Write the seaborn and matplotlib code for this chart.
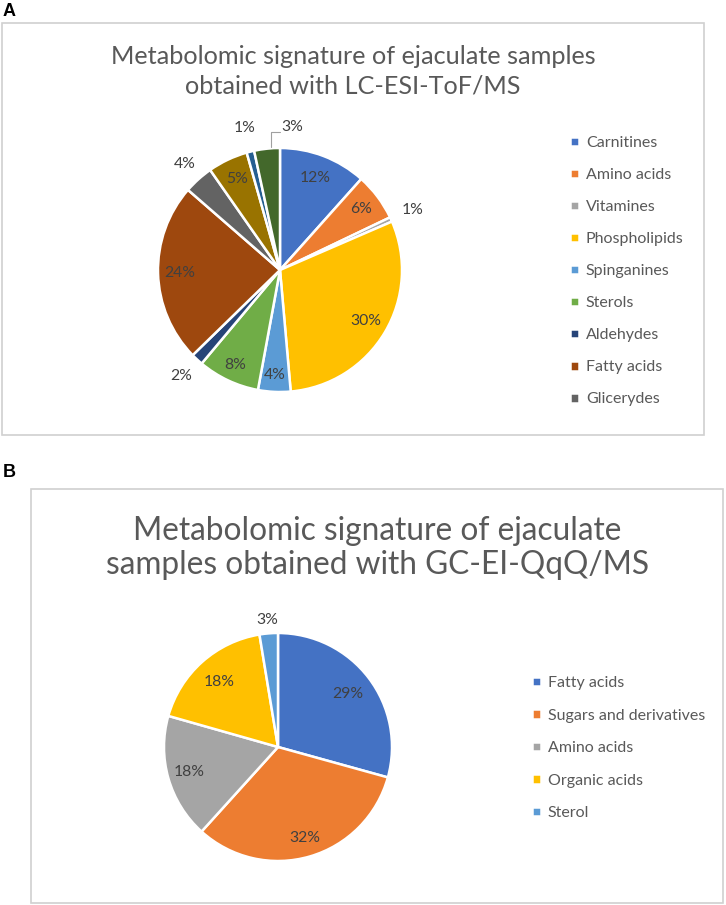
import matplotlib
matplotlib.use("Agg")
import numpy as np
import matplotlib.pyplot as plt
import matplotlib.patches as mpatches
import seaborn as sns

# Panel A: LC-ESI-ToF/MS (clockwise from 12 o'clock)
classes_a = ['Carnitines', 'Amino acids', 'Vitamines', 'Phospholipids', 'Spinganines',
             'Sterols', 'Aldehydes', 'Fatty acids', 'Glicerydes', 'Other 1', 'Other 2', 'Other 3']
share_a = [11.6, 6.3, 0.6, 30.1, 4.3, 8.2, 1.6, 23.7, 3.9, 5.3, 1.0, 3.4]
legend_a = classes_a[:9]  # the legend in the original only lists the first nine

# Panel B: GC-EI-QqQ/MS
classes_b = ['Fatty acids', 'Sugars and derivatives', 'Amino acids', 'Organic acids', 'Sterol']
share_b = [29.3, 32.4, 17.7, 18.0, 2.6]

office_a = ['#4472C4', '#ED7D31', '#A5A5A5', '#FFC000', '#5B9BD5', '#70AD47',
            '#264478', '#9E480E', '#636363', '#997300', '#255E91', '#43682B']
office_b = office_a[:5]

# label radius per slice (inside ~0.83, outside ~1.18)
lab_r_a = [0.81, 0.83, 1.19, 0.82, 0.86, 0.86, 1.19, 0.82, 1.17, 0.83, 1.20, 1.17]
lab_r_b = [0.77, 0.83, 0.81, 0.77, 1.12]

sns.set_theme(style='white')
plt.rcParams['font.family'] = ['Lato', 'DejaVu Sans']

W, H = 726, 905
fig = plt.figure(figsize=(W / 100, H / 100), dpi=100)
fig.patch.set_facecolor('white')


def fx(px):
    return px / W


def fy(py):
    return 1 - py / H


def frame(x0, y0, x1, y1):
    fig.add_artist(mpatches.Rectangle((fx(x0), fy(y1)), fx(x1 - x0), (y1 - y0) / H,
                                      transform=fig.transFigure, fill=False,
                                      edgecolor='#d0d0d0', linewidth=1.2))


def draw_pie(cx, cy, r, ylo, shares, colors, lab_r, fsize):
    span = 1.5 * r
    ax = fig.add_axes([fx(cx - span), fy(cy + ylo * r), fx(2 * span), (span + ylo * r) / H])
    wedges, _ = ax.pie(shares, colors=colors, startangle=90, counterclock=False,
                       radius=1, wedgeprops=dict(edgecolor='white', linewidth=1.8))
    tot = sum(shares)
    labels = []
    for w, s, rr in zip(wedges, shares, lab_r):
        ang = np.deg2rad((w.theta1 + w.theta2) / 2)
        labels.append(ax.text(rr * np.cos(ang), rr * np.sin(ang), f'{100 * s / tot:.0f}%',
                              ha='center', va='center', fontsize=fsize, color='#404040'))
    ax.set_xlim(-1.5, 1.5)
    ax.set_ylim(-ylo, 1.5)
    ax.set_aspect('equal')
    ax.axis('off')
    return ax, wedges, labels


# ---- Panel A ----
fig.text(fx(3), fy(12), 'A', fontsize=13, fontweight='bold', family='Liberation Sans',
         ha='left', va='center', color='black')
frame(2, 23, 704, 435)
fig.text(fx(353), fy(71), 'Metabolomic signature of ejaculate samples\nobtained with LC-ESI-ToF/MS',
         ha='center', va='center', fontsize=18.2, color='#595959', linespacing=1.35)
ax_a, wedges_a, labels_a = draw_pie(280, 270, 122, 1.5, share_a, office_a, lab_r_a, 11.3)
# the small 3% slice gets its label moved right with a leader line
labels_a[-1].set_position((0.1, 1.17))
ax_a.plot([0.0, -0.07, -0.07], [1.13, 1.13, 1.01], color='#a0a0a0', linewidth=0.8)
fig.legend(wedges_a[:9], legend_a, loc='upper left', bbox_to_anchor=(fx(570), fy(136)),
           frameon=False, fontsize=11.5, handlelength=0.55, handleheight=0.55,
           handletextpad=0.45, labelspacing=1.13, borderpad=0, borderaxespad=0,
           labelcolor='#595959')

# ---- Panel B ----
fig.text(fx(3), fy(472), 'B', fontsize=13, fontweight='bold', family='Liberation Sans',
         ha='left', va='center', color='black')
frame(31, 489, 723, 903)
fig.text(fx(377), fy(548), 'Metabolomic signature of ejaculate\nsamples obtained with GC-EI-QqQ/MS',
         ha='center', va='center', fontsize=22.8, color='#595959', linespacing=1.2)
ax_b, wedges_b, labels_b = draw_pie(278, 747, 114, 1.2, share_b, office_b, lab_r_b, 11.3)
fig.legend(wedges_b, classes_b, loc='upper left', bbox_to_anchor=(fx(532), fy(676)),
           frameon=False, fontsize=11.5, handlelength=0.55, handleheight=0.55,
           handletextpad=0.45, labelspacing=1.16, borderpad=0, borderaxespad=0,
           labelcolor='#595959')

fig.savefig('out.png', dpi=100, facecolor='white')
